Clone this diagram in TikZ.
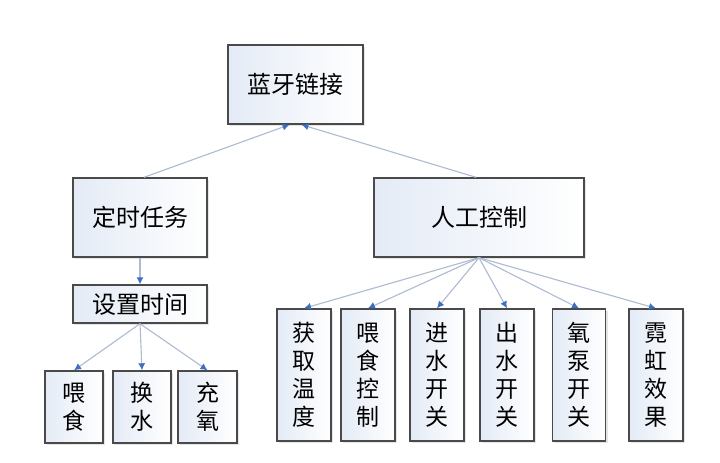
\documentclass[tikz,border=0pt]{standalone}
\usepackage{fontspec}
\setmainfont{Noto Sans CJK SC}
\usetikzlibrary{shadows,arrows.meta}
\definecolor{boxline}{HTML}{4A4A4A}
\definecolor{linkline}{HTML}{AEBAD2}
\definecolor{tipblue}{HTML}{3F6FC0}
\definecolor{boxfill}{HTML}{E4EBF6}
\tikzset{
  box/.style={draw=boxline, line width=1.4pt, left color=boxfill, right color=white,
    inner sep=0pt, align=center,
    drop shadow={shadow xshift=2pt, shadow yshift=-2pt, fill=black!20, opacity=0.5}},
  bigbox/.style={box, font=\fontsize{24}{26}\selectfont},
  vbox/.style={box, font=\fontsize{23}{28}\selectfont},
  link/.style={draw=linkline, line width=1.1pt, -{Latex[length=7pt,width=7pt,color=tipblue]}}
}
\begin{document}
\begin{tikzpicture}[x=1pt,y=-1pt]
\useasboundingbox[fill=white] (0,0) rectangle (720,463);
\node[bigbox, minimum width=135pt, minimum height=79pt] (bt) at (295.5,84.5) {蓝牙链接};
\node[bigbox, minimum width=134pt, minimum height=79pt] (ds) at (140,217.5) {定时任务};
\node[bigbox, minimum width=210pt, minimum height=79pt] (rg) at (479,217.5) {人工控制};
\node[bigbox, minimum width=134pt, minimum height=38pt] (sz) at (140,304) {设置时间};
% bottom left
\node[vbox, minimum width=58pt, minimum height=72pt] (a1) at (74,407) {喂\\食};
\node[vbox, minimum width=58pt, minimum height=72pt] (a2) at (142,407) {换\\水};
\node[vbox, minimum width=59pt, minimum height=72pt] (a3) at (207.5,407) {充\\氧};
% bottom right
\node[vbox, minimum width=54pt, minimum height=132pt] (b1) at (304,375) {获\\取\\温\\度};
\node[vbox, minimum width=54pt, minimum height=132pt] (b2) at (368,375) {喂\\食\\控\\制};
\node[vbox, minimum width=54pt, minimum height=132pt] (b3) at (437,375) {进\\水\\开\\关};
\node[vbox, minimum width=54pt, minimum height=132pt] (b4) at (507,375) {出\\水\\开\\关};
\node[vbox, minimum width=53pt, minimum height=132pt] (b5) at (579,375) {氧\\泵\\开\\关};
\node[vbox, minimum width=54pt, minimum height=132pt] (b6) at (656,375) {霓\\虹\\效\\果};
% connectors
\coordinate (btl) at ([xshift=-6pt]bt.south);
\coordinate (btr) at ([xshift=6pt]bt.south);
\coordinate (dsn) at ([xshift=4pt]ds.north);
\coordinate (rgn) at ([xshift=-3pt]rg.north);
\draw[link] (dsn) -- (btl);
\draw[link] (rgn) -- (btr);
\draw[link] (ds.south) -- (sz.north);
\draw[link] (sz.south) -- (a1.north);
\draw[link] (sz.south) -- (a2.north);
\draw[link] (sz.south) -- (a3.north);
\foreach \b in {b1,b2,b3,b4,b5,b6}
  \draw[link] (rg.south) -- (\b.north);
\end{tikzpicture}
\end{document}
